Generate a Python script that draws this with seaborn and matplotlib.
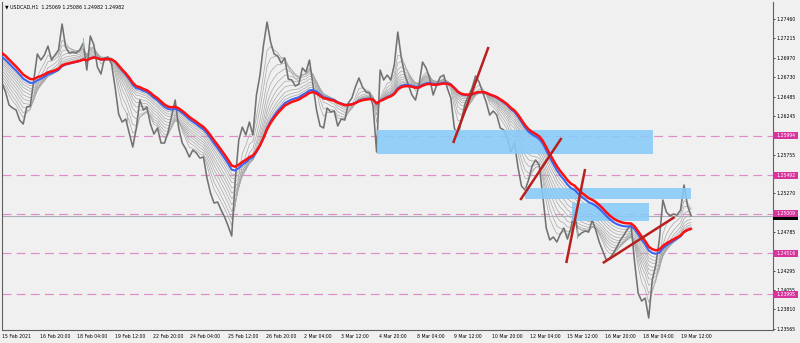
import numpy as np
import pandas as pd
import matplotlib
matplotlib.use("Agg")
import matplotlib.pyplot as plt
import seaborn as sns
from matplotlib.patches import Rectangle

# ---------------- data ----------------
symbol_title = "\u25BC USDCAD,H1  1.25069 1.25086 1.24982 1.24982"
step_hours = 3  # one close value every 3 H1 bars
close = [
    1.26655, 1.26542, 1.26378, 1.26340, 1.26315, 1.26189, 1.26139, 1.26353, 1.26366, 1.26693,
    1.27020, 1.26944, 1.27007, 1.27120, 1.26944, 1.27007, 1.27070, 1.27397, 1.27108, 1.27032,
    1.27045, 1.27032, 1.27070, 1.27158, 1.26818, 1.27246, 1.27133, 1.26856, 1.26768, 1.26969,
    1.26982, 1.26894, 1.26605, 1.26265, 1.26164, 1.26202, 1.26026, 1.25850, 1.26089, 1.26441,
    1.26315, 1.26353, 1.26139, 1.26013, 1.26089, 1.25900, 1.25900, 1.26038, 1.26240, 1.26441,
    1.26089, 1.25900, 1.25825, 1.25724, 1.25812, 1.25774, 1.25711, 1.25724, 1.25460, 1.25271,
    1.25145, 1.25158, 1.25057, 1.24969, 1.24856, 1.24730, 1.25435, 1.25938, 1.26101, 1.26001,
    1.26164, 1.26001, 1.26504, 1.26755, 1.27133, 1.27422, 1.27171, 1.27020, 1.26995, 1.26906,
    1.26969, 1.26705, 1.26693, 1.26617, 1.26642, 1.26844, 1.26793, 1.26944, 1.26630, 1.26315,
    1.26114, 1.26089, 1.26340, 1.26290, 1.26303, 1.26114, 1.26202, 1.26189, 1.26403, 1.26466,
    1.26605, 1.26718, 1.26605, 1.26542, 1.26529, 1.26366, 1.25787, 1.26818, 1.26693, 1.26755,
    1.26693, 1.26881, 1.27296, 1.26969, 1.26755, 1.26630, 1.26504, 1.26441, 1.26630, 1.26919,
    1.26844, 1.26718, 1.26504, 1.26630, 1.26730, 1.26755, 1.26592, 1.26466, 1.26089, 1.25976,
    1.26189, 1.26391, 1.26491, 1.26592, 1.26743, 1.26667, 1.26542, 1.26416, 1.26252, 1.26303,
    1.26252, 1.26089, 1.26064, 1.25963, 1.25787, 1.25900, 1.25598, 1.25359, 1.25309, 1.25435,
    1.25611, 1.25686, 1.25623, 1.25246, 1.24831, 1.24680, 1.24718, 1.24655, 1.24755, 1.24831,
    1.24692, 1.24831, 1.25057, 1.24730, 1.24768, 1.24793, 1.24780, 1.24931, 1.24806, 1.24655,
    1.24541, 1.24428, 1.24453, 1.24516, 1.24592, 1.24680, 1.24743, 1.24818, 1.24868, 1.24403,
    1.24013, 1.23912, 1.23950, 1.23699, 1.24177, 1.24365, 1.24680, 1.25183, 1.25032, 1.24982,
    1.25007, 1.24994, 1.25057, 1.25372, 1.25108, 1.24982,
]

# moving-average ribbon (EMA periods in H1 bars) and their values at the left edge
gray_spans = [10, 15, 21, 27, 33, 39, 45, 52, 58, 64]
gray_start = [1.26655, 1.26693, 1.26730, 1.26768, 1.26806, 1.26844, 1.26881, 1.26906, 1.26932, 1.26957]
blue_span, blue_start = 71, 1.26982
red_span, red_start = 78, 1.27032

levels = [1.25994, 1.25492, 1.25009, 1.24516, 1.23995]
bid_price = 1.24982
ytick_vals = [1.27460, 1.27215, 1.26970, 1.26730, 1.26485, 1.26245, 1.25755,
              1.25270, 1.24785, 1.24295, 1.24055, 1.23810, 1.23565]
xtick_labels = ["15 Feb 2021", "16 Feb 20:00", "18 Feb 04:00", "19 Feb 12:00", "22 Feb 20:00",
                "24 Feb 04:00", "25 Feb 12:00", "26 Feb 20:00", "2 Mar 04:00", "3 Mar 12:00",
                "4 Mar 20:00", "8 Mar 04:00", "9 Mar 12:00", "10 Mar 20:00", "12 Mar 04:00",
                "15 Mar 12:00", "16 Mar 20:00", "18 Mar 04:00", "19 Mar 12:00"]
xtick_bars = [32 * i for i in range(len(xtick_labels))]

# rectangles: (start bar, end bar, low price, high price)
zones = [(318, 553, 1.25762, 1.26064),
         (444, 585, 1.25196, 1.25334),
         (484, 549, 1.24919, 1.25145)]
# trend lines: (bar0, price0, bar1, price1)
trend_lines = [(383, 1.25900, 413, 1.27108),
               (440, 1.25183, 475, 1.25963),
               (479, 1.24390, 495, 1.25573),
               (510, 1.24390, 571, 1.24969)]
# small green (bullish) bars: (bar, low, high)
green_bars = [(69, 1.27095, 1.27221), (106, 1.26164, 1.26277), (488, 1.24705, 1.24831)]

# ---------------- derived ----------------
close = np.array(close)
bars = np.arange(len(close)) * step_hours


def ema(values, span, start):
    a = 1 - (1 - 2.0 / (span + 1)) ** step_hours
    out = [start]
    for v in values[1:]:
        out.append(out[-1] + a * (v - out[-1]))
    return np.array(out)


# ---------------- figure ----------------
sns.set_style("white")
plt.rcParams['font.family'] = ['DejaVu Sans']
BG = '#f0f0f0'
W, H = 800, 343
fig = plt.figure(figsize=(8, 3.43), dpi=100, facecolor=BG)
L, R, T, B = 2, 773, 2, 330
ax = fig.add_axes([L / W, (H - B) / H, (R - L) / W, (B - T) / H])
ax.set_facecolor(BG)

px_per_bar = 1.178
xmax = (R - L) / px_per_bar
ax.set_xlim(0, xmax)
ax.set_ylim(1.23548, 1.27674)

# horizontal levels
for lv in levels:
    ax.axhline(lv, color='#E08CC8', lw=0.85, ls=(0, (7.5, 4.5)), zorder=1)
ax.axhline(bid_price, color='#A8B0B8', lw=0.8, zorder=1)

# ribbon
for sp, st in zip(gray_spans, gray_start):
    sns.lineplot(x=bars, y=ema(close, sp, st), ax=ax, color='#a8a8a8', lw=0.5,
                 zorder=2, sort=False, estimator=None)

# price
sns.lineplot(x=bars, y=close, ax=ax, color='#727272', lw=1.15, zorder=2.5,
             sort=False, estimator=None)
for b, lo, hi in green_bars:
    ax.plot([b, b], [lo, hi], color='#66e066', lw=0.8, zorder=2.6)

# zones
for x0, x1, lo, hi in zones:
    ax.add_patch(Rectangle((x0, lo), x1 - x0, hi - lo, fc='#87CBF8', ec='none',
                           alpha=0.88, zorder=3))

sns.lineplot(x=bars, y=ema(close, blue_span, blue_start), ax=ax, color='#3a66f0',
             lw=1.5, zorder=4, sort=False, estimator=None)
sns.lineplot(x=bars, y=ema(close, red_span, red_start), ax=ax, color='#ff1010',
             lw=1.8, zorder=4.2, sort=False, estimator=None)

for b0, p0, b1, p1 in trend_lines:
    ax.plot([b0, b1], [p0, p1], color='#b8201e', lw=1.8, zorder=5,
            solid_capstyle='butt')

# axes styling
ax.spines['top'].set_visible(False)
for s in ['left', 'bottom', 'right']:
    ax.spines[s].set_color('#606060')
    ax.spines[s].set_linewidth(0.8)

ax.yaxis.tick_right()
ax.set_yticks(ytick_vals)
ax.set_yticklabels([f"{v:.5f}" for v in ytick_vals])
ax.tick_params(axis='y', which='both', right=True, left=False, length=1.6, width=0.5,
               pad=1.2, labelsize=3.3, colors='#000000')
ax.set_xticks(xtick_bars)
ax.set_xticklabels(xtick_labels, ha='left')
ax.tick_params(axis='x', length=2.2, width=0.5, pad=0.8, labelsize=3.3, colors='#000000')
ax.set_xlabel('')
ax.set_ylabel('')

# price labels on the right scale
trans = ax.get_yaxis_transform()
box_w = 25 / (R - L)
box_h = 7 * (1.27674 - 1.23548) / (B - T)


def price_tag(p, fc, show_text=True):
    ax.add_patch(Rectangle((1.0, p - box_h / 2), box_w, box_h, transform=trans,
                           fc=fc, ec='none', clip_on=False, zorder=10))
    if show_text:
        ax.text(1.0 + 3 / (R - L), p, f"{p:.5f}", transform=trans, ha='left', va='center',
                fontsize=3.3, color='white', clip_on=False, zorder=11)


# bid tag sits beneath the 1.25009 tag, so only its dark edge shows
price_tag(bid_price, '#000000', show_text=False)
for lv in levels:
    price_tag(lv, '#D6339C')

fig.text(5 / W, 1 - 6.5 / H, symbol_title, fontsize=3.4, ha='left', va='center',
         color='#000000')

fig.savefig('out.png', dpi=100, facecolor=BG)
